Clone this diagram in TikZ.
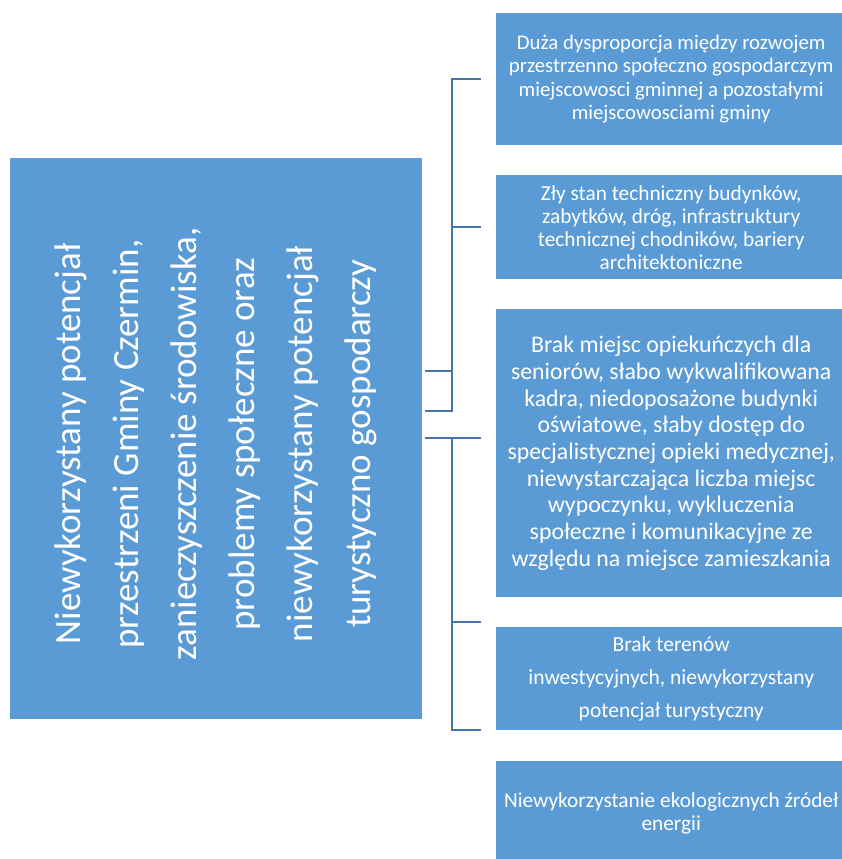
\documentclass[tikz,border=0pt]{standalone}
\usepackage{fontspec}
\setmainfont{Carlito}
\definecolor{boxblue}{HTML}{5B9BD5}
\definecolor{linkblue}{HTML}{4676A8}
\tikzset{
  cbox/.style={fill=boxblue, draw=none, inner sep=0pt, text=white, align=center, anchor=north west},
  link/.style={draw=linkblue, line width=2.8pt},
}
\begin{document}
\begin{tikzpicture}[x=1pt,y=-1pt]
\useasboundingbox (0,0) rectangle (842,859);
\clip (0,0) rectangle (842,859);
\fill[white] (0,0) rectangle (842,859);
% left box
\node[cbox, minimum width=412pt, minimum height=561pt] (L) at (10,158) {};
\node[text=white, align=center, rotate=90, inner sep=0pt,
      font=\fontsize{37}{58}\selectfont] (Lt) at (216,444)
  {Niewykorzystany potencjał\\przestrzeni Gminy Czermin,\\zanieczyszczenie  środowiska,\\problemy społeczne oraz\\niewykorzystany potencjał\\turystyczno gospodarczy};
% right boxes
\node[cbox, minimum width=350pt, minimum height=132pt, font=\fontsize{20.8}{23.3}\selectfont] (b1) at (496,13)
  {Duża dysproporcja między rozwojem\\przestrzenno społeczno gospodarczym\\miejscowosci gminnej a pozostałymi\\miejscowosciami gminy};
\node[cbox, minimum width=350pt, minimum height=104pt, font=\fontsize{21.3}{23}\selectfont] (b2) at (496,175)
  {Zły stan techniczny budynków,\\zabytków, dróg, infrastruktury\\technicznej chodników, bariery\\architektoniczne};
\node[cbox, minimum width=350pt, minimum height=288pt, font=\fontsize{23.8}{26.7}\selectfont] (b3) at (496,309)
  {Brak miejsc opiekuńczych dla\\seniorów, słabo wykwalifikowana\\kadra, niedoposażone budynki\\oświatowe, słaby dostęp do\\specjalistycznej opieki medycznej,\\niewystarczająca liczba miejsc\\wypoczynku, wykluczenia\\społeczne i komunikacyjne ze\\względu na miejsce zamieszkania};
\node[cbox, minimum width=350pt, minimum height=103pt, font=\fontsize{21.5}{33}\selectfont] (b4) at (496,627)
  {Brak terenów\\inwestycyjnych, niewykorzystany\\potencjał turystyczny};
\node[cbox, minimum width=350pt, minimum height=105pt, font=\fontsize{21.3}{23}\selectfont] (b5) at (496,761)
  {Niewykorzystanie ekologicznych źródeł\\energii};
% connector points
\coordinate (s1) at (425,371);
\coordinate (s2) at (425,411);
\coordinate (s3) at (425,438);
\coordinate (t1) at (452,79);
\coordinate (t2) at (452,227);
\coordinate (tb) at (452,411);
\coordinate (u1) at (452,438);
\coordinate (u2) at (452,622);
\coordinate (u3) at (452,730);
\coordinate (e1) at (481,79);
\coordinate (e2) at (481,227);
\coordinate (e3) at (481,438);
\coordinate (e4) at (481,622);
\coordinate (e5) at (481,730);
% upper bracket
\draw[link] (e1) -- (t1) -- (tb) -- (s2);
\draw[link] (t2) -- (e2);
\draw[link] (s1) -- (s1 -| t1);
% lower bracket
\draw[link] (s3) -- (e3);
\draw[link] (u1) -- (u3) -- (e5);
\draw[link] (u2) -- (e4);
\end{tikzpicture}
\end{document}
